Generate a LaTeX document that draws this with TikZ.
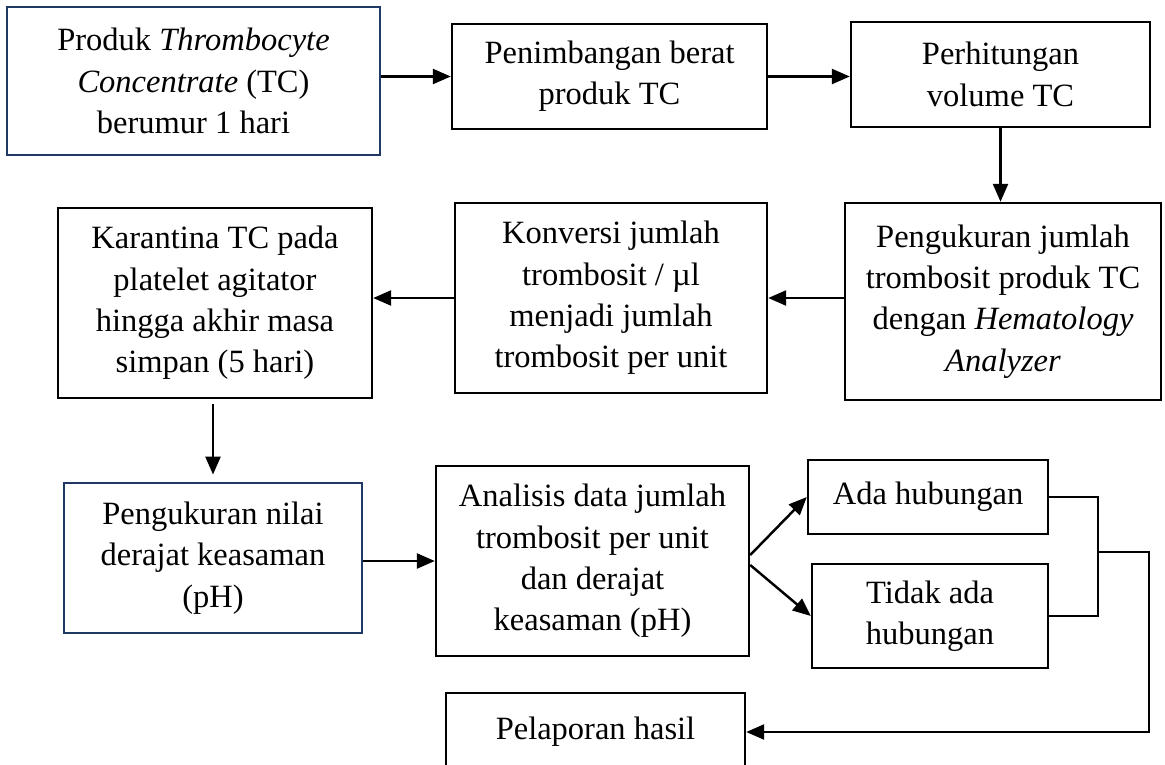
\documentclass[tikz,border=0pt]{standalone}
\usepackage{fontspec}
\setmainfont{Liberation Serif}
\usetikzlibrary{arrows.meta}
\definecolor{boxnavy}{HTML}{1F3864}

\tikzset{
    proc/.style={rectangle, draw, line width=1.4pt, align=center, inner sep=2pt, font=\fontsize{18.5}{23.5}\selectfont},
    procblue/.style={proc, draw=boxnavy, line width=1.1pt},
    arr/.style={-{Triangle[length=3.6mm,width=3mm]}, line width=1.4pt}
}

\begin{document}
\begin{tikzpicture}[x=0.02cm, y=-0.02cm]
\clip (0,0) rectangle (1165,764);

% ===== Row 1 =====
\node[procblue, minimum width=7.46cm, minimum height=2.96cm] (prod) at (193.5,81) {Produk \textit{Thrombocyte}\\ \textit{Concentrate} (TC)\\ berumur 1 hari};
\node[proc, minimum width=6.3cm, minimum height=2.1cm] (timbang) at (609.5,76.5) {Penimbangan berat\\ produk TC};
\node[proc, minimum width=5.98cm, minimum height=2.1cm] (hitung) at (1000.5,74.5) {Perhitungan\\ volume TC};

% ===== Row 2 =====
\node[proc, minimum width=6.32cm, minimum height=3.94cm] (ukur) at (1003,301.5) {Pengukuran jumlah\\ trombosit produk TC\\ dengan \textit{Hematology}\\ \textit{Analyzer}};
\node[proc, minimum width=6.24cm, minimum height=3.8cm] (konversi) at (611,298) {Konversi jumlah\\ trombosit / µl\\ menjadi jumlah\\ trombosit per unit};
\node[proc, minimum width=6.28cm, minimum height=3.8cm] (karantina) at (215,303) {Karantina TC pada\\ platelet agitator\\ hingga akhir masa\\ simpan (5 hari)};

% ===== Row 3 =====
\node[procblue, minimum width=5.96cm, minimum height=3cm] (ph) at (213,558) {Pengukuran nilai\\ derajat keasaman\\ (pH)};
\node[proc, minimum width=6.26cm, minimum height=3.8cm] (analisis) at (592.5,561) {Analisis data jumlah\\ trombosit per unit\\ dan derajat\\ keasaman (pH)};
\node[proc, minimum width=4.8cm, minimum height=1.48cm] (ada) at (928,497) {Ada hubungan};
\node[proc, minimum width=4.72cm, minimum height=2.08cm] (tidak) at (930,616) {Tidak ada\\ hubungan};

% ===== Row 4 =====
\node[proc, minimum width=5.98cm, minimum height=1.56cm] (lapor) at (595.5,732) {Pelaporan hasil};

\coordinate (brk) at (1098,552);
\coordinate (turn) at (1149,552);

% ===== Connectors =====
\draw[arr] (prod.east |- timbang.west) -- (timbang.west);
\draw[arr] (timbang.east) -- (timbang.east -| hitung.west);
\draw[arr] (hitung.south) -- (hitung.south |- ukur.north);
\draw[arr] (ukur.west |- konversi.east) -- (konversi.east);
\draw[arr] (konversi.west) -- (konversi.west -| karantina.east);
\draw[arr, shorten <=1mm, shorten >=1.5mm] (ph.north |- karantina.south) -- (ph.north);
\draw[arr] (ph.east |- analisis.west) -- (analisis.west);
\draw[arr] ([yshift=0.12cm]analisis.east) -- (ada.west);
\draw[arr] ([yshift=-0.08cm]analisis.east) -- (tidak.west);
\draw[line width=1.4pt] (ada.east) -| (brk) |- (tidak.east);
\draw[arr] (brk) -- (turn) |- (lapor);

\end{tikzpicture}
\end{document}
